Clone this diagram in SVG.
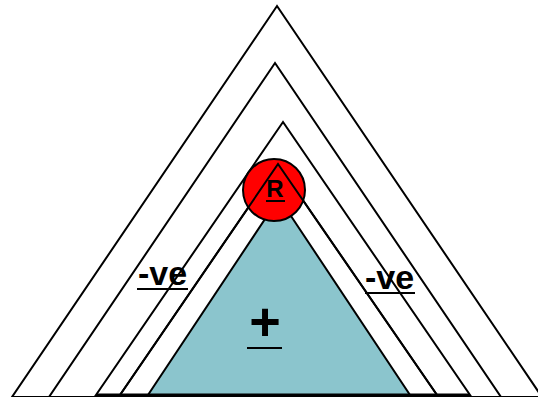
<svg xmlns="http://www.w3.org/2000/svg" width="538" height="397" viewBox="0 0 538 397">
<style>
.tri{fill:#fff;stroke:#000;stroke-width:2;stroke-linejoin:miter}
.lbl{font-family:"Liberation Sans",Arial,sans-serif;font-weight:bold;fill:#000}
.ul{stroke:#000;stroke-width:2}
</style>
<rect width="538" height="397" fill="#fff"/>
<g id="outer"><polygon class="tri" points="277,6 12,397 542,397"/></g>
<g id="second"><polygon class="tri" points="275,63 49,397 501,397"/></g>
<g id="third"><polygon class="tri" points="283,122 96,395 470,395"/></g>
<g id="fourth"><polygon class="tri" points="278,164 120,395 437,395"/></g>
<g id="positive"><polygon points="279,198 148,395 410,395" fill="#8BC5CD" stroke="#000" stroke-width="2"/>
<text class="lbl" x="265" y="340" font-size="54" text-anchor="middle">+</text>
<line class="ul" x1="247" y1="348" x2="282" y2="348"/></g>
<g id="R"><circle cx="274" cy="190" r="31" fill="#FF0000" stroke="#000" stroke-width="2"/>
<polyline points="120,395 278,164 437,395" fill="none" stroke="#000" stroke-width="2"/>
<text class="lbl" x="275" y="196.5" font-size="24" text-anchor="middle">R</text>
<line class="ul" x1="266" y1="201" x2="285" y2="201"/></g>
<line x1="96" y1="395" x2="470" y2="395" stroke="#000" stroke-width="3"/>
<g id="neg-left"><text class="lbl" x="162.5" y="285" font-size="34" text-anchor="middle">-ve</text>
<line class="ul" x1="137" y1="289" x2="188" y2="289"/></g>
<g id="neg-right"><text class="lbl" x="389.5" y="289" font-size="34" text-anchor="middle">-ve</text>
<line class="ul" x1="365" y1="293" x2="415" y2="293"/></g>
<g id="connectors"></g>
</svg>
